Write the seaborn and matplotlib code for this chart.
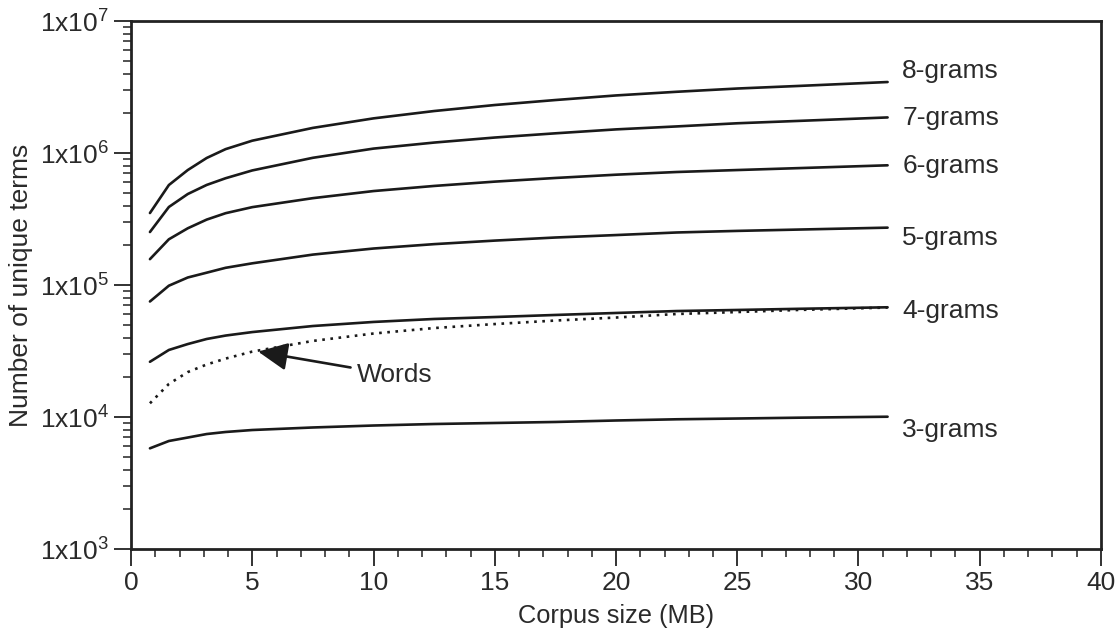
import numpy as np
import pandas as pd
import matplotlib
matplotlib.use("Agg")
import matplotlib.pyplot as plt
import matplotlib.ticker as mticker
import seaborn as sns

# ---- data ----
corpus_mb = [0.78, 1.56, 2.34, 3.12, 3.9, 5, 7.5, 10, 12.5, 15, 17.5, 20, 22.5, 25, 27.5, 31.2]

grams8 = [3.51e5, 5.72e5, 7.43e5, 9.17e5, 1.07e6, 1.24e6, 1.55e6, 1.83e6,
          2.08e6, 2.31e6, 2.52e6, 2.73e6, 2.91e6, 3.08e6, 3.22e6, 3.45e6]
grams7 = [2.52e5, 3.90e5, 4.89e5, 5.73e5, 6.44e5, 7.38e5, 9.20e5, 1.08e6,
          1.20e6, 1.31e6, 1.41e6, 1.51e6, 1.59e6, 1.68e6, 1.75e6, 1.86e6]
grams6 = [1.57e5, 2.22e5, 2.69e5, 3.13e5, 3.50e5, 3.89e5, 4.55e5, 5.15e5,
          5.63e5, 6.07e5, 6.47e5, 6.85e5, 7.18e5, 7.43e5, 7.68e5, 8.07e5]
grams5 = [7.50e4, 9.88e4, 1.14e5, 1.24e5, 1.35e5, 1.46e5, 1.70e5, 1.89e5,
          2.04e5, 2.17e5, 2.29e5, 2.39e5, 2.50e5, 2.57e5, 2.63e5, 2.72e5]
grams4 = [2.62e4, 3.22e4, 3.57e4, 3.90e4, 4.14e4, 4.40e4, 4.89e4, 5.25e4,
          5.53e4, 5.72e4, 5.93e4, 6.14e4, 6.35e4, 6.47e4, 6.60e4, 6.78e4]
words = [1.27e4, 1.78e4, 2.19e4, 2.50e4, 2.77e4, 3.13e4, 3.77e4, 4.29e4,
         4.72e4, 5.06e4, 5.38e4, 5.67e4, 6.03e4, 6.24e4, 6.47e4, 6.75e4]
grams3 = [5.79e3, 6.58e3, 6.99e3, 7.43e3, 7.70e3, 7.97e3, 8.33e3, 8.62e3,
          8.85e3, 9.01e3, 9.17e3, 9.41e3, 9.61e3, 9.74e3, 9.88e3, 1.005e4]

series_names = ["8-grams", "7-grams", "6-grams", "5-grams", "4-grams", "Words", "3-grams"]
series_values = [grams8, grams7, grams6, grams5, grams4, words, grams3]

# end-of-line label placement
label_names = ["8-grams", "7-grams", "6-grams", "5-grams", "4-grams", "3-grams"]
label_y = [4.18e6, 1.84e6, 7.97e5, 2.27e5, 6.35e4, 7.98e3]

df = pd.DataFrame({
    "Corpus size (MB)": np.tile(corpus_mb, len(series_names)),
    "terms": np.concatenate(series_values),
    "series": np.repeat(series_names, len(corpus_mb)),
})

# ---- style ----
sns.set_style("ticks")
plt.rcParams["font.family"] = ["Liberation Sans", "DejaVu Sans"]
plt.rcParams["mathtext.fontset"] = "custom"
plt.rcParams["mathtext.rm"] = "Liberation Sans"
plt.rcParams["mathtext.default"] = "regular"

FS = 19
TXT = "#2a2a2a"
fig = plt.figure(figsize=(11.19, 6.33), dpi=100)
ax = fig.add_axes([0.1171, 0.1327, 0.8668, 0.8341])

dashes = {n: "" for n in series_names}
dashes["Words"] = (1.0, 2.1)
sns.lineplot(data=df, x="Corpus size (MB)", y="terms", hue="series",
             style="series", dashes=dashes,
             palette={n: "#1a1a1a" for n in series_names},
             linewidth=1.9, legend=False, ax=ax)

ax.set_yscale("log")
ax.set_xlim(0, 40)
ax.set_ylim(1e3, 1e7)

ax.xaxis.set_major_locator(mticker.MultipleLocator(5))
ax.xaxis.set_minor_locator(mticker.MultipleLocator(1))
ax.yaxis.set_major_locator(mticker.LogLocator(base=10, numticks=10))
ax.yaxis.set_minor_locator(mticker.LogLocator(base=10, subs=np.arange(2, 10), numticks=20))
ax.yaxis.set_minor_formatter(mticker.NullFormatter())
ax.yaxis.set_major_formatter(mticker.FuncFormatter(
    lambda v, p: "1x10$^{%d}$" % int(round(np.log10(v)))))

ax.tick_params(which="major", direction="out", length=12, width=1.3,
               color="#222222", labelsize=FS, pad=4, labelcolor=TXT)
ax.tick_params(which="minor", direction="out", length=6, width=1.1, color="#222222")
for s in ax.spines.values():
    s.set_linewidth(2.0)
    s.set_color("#222222")
    s.set_visible(True)

ax.set_xlabel("Corpus size (MB)", fontsize=18.3, color=TXT, labelpad=6)
ax.set_ylabel("Number of unique terms", fontsize=FS, color=TXT, labelpad=5)

for name, yv in zip(label_names, label_y):
    ax.text(31.8, yv, name, fontsize=FS, va="center", ha="left", color=TXT)

ax.annotate("Words", xy=(5.24, 3.13e4), xytext=(9.3, 2.08e4),
            fontsize=FS, va="center", ha="left", color=TXT,
            arrowprops=dict(arrowstyle="-|>,head_length=0.95,head_width=0.45",
                            color="#1a1a1a", lw=1.9, shrinkA=2, shrinkB=0))

fig.savefig("out.png", dpi=100)
